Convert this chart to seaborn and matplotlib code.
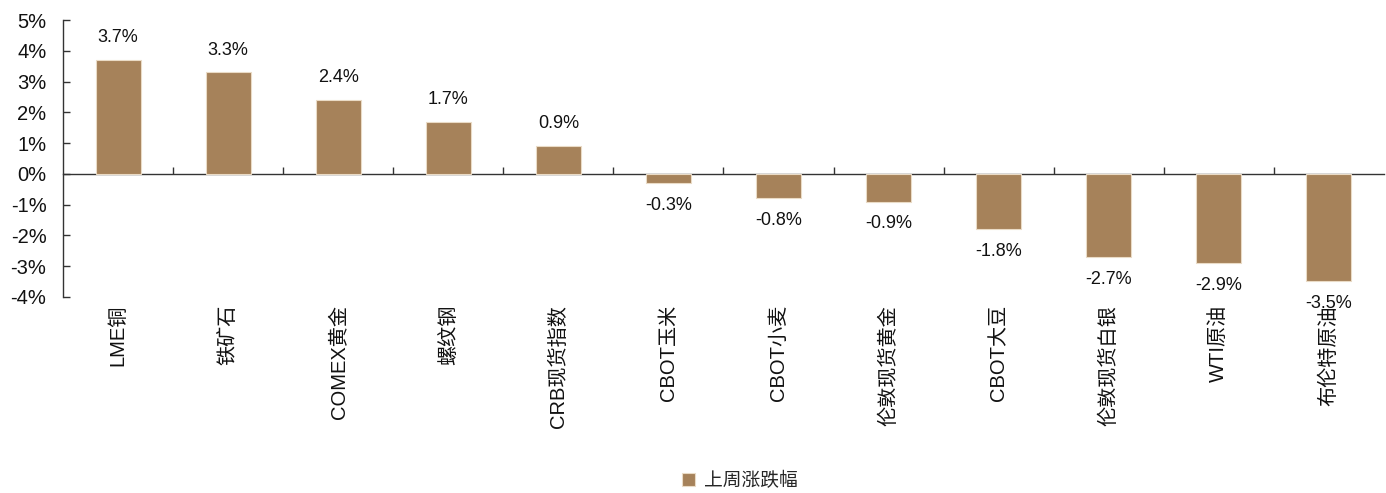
import matplotlib
matplotlib.use("Agg")
import matplotlib.pyplot as plt
import matplotlib.ticker as mticker
import seaborn as sns
import numpy as np
import pandas as pd

# Weekly change of major commodities (%)
categories = ["LME铜", "铁矿石", "COMEX黄金", "螺纹钢", "CRB现货指数", "CBOT玉米",
              "CBOT小麦", "伦敦现货黄金", "CBOT大豆", "伦敦现货白银", "WTI原油", "布伦特原油"]
values = [3.7, 3.3, 2.4, 1.7, 0.9, -0.3, -0.8, -0.9, -1.8, -2.7, -2.9, -3.5]
series_name = "上周涨跌幅"
y_ticks = [-4, -3, -2, -1, 0, 1, 2, 3, 4, 5]

sns.set_theme(style="white")
plt.rcParams["font.family"] = ["Liberation Sans", "Noto Sans CJK SC"]
plt.rcParams["axes.unicode_minus"] = False

bar_color = "#A6825A"
df = pd.DataFrame({"品种": categories, series_name: values})

fig = plt.figure(figsize=(13.86, 4.93), dpi=100)
ax = fig.add_axes([0.0455, 0.398, 0.953, 0.561])

sns.barplot(data=df, x="品种", y=series_name, color=bar_color, width=0.41,
            saturation=1, edgecolor="#EADBC6", linewidth=0.8, label=series_name, ax=ax)

ax.set_ylim(-4, 5)
ax.set_xlim(-0.5, len(categories) - 0.5)
ax.set_yticks(y_ticks)
ax.yaxis.set_major_formatter(mticker.FuncFormatter(lambda v, p: f"{v:.0f}%"))
ax.set_xlabel("")
ax.set_ylabel("")

# spines: only the left axis; zero line drawn by a secondary axis
for side in ["top", "right", "bottom"]:
    ax.spines[side].set_visible(False)
ax.spines["left"].set_color("#333333")
ax.spines["left"].set_linewidth(1.0)

ax.tick_params(axis="y", direction="in", length=5, width=1, color="#333333",
               labelsize=14.5, pad=12, left=True, labelcolor="#111111")
ax.tick_params(axis="x", length=0, pad=6, labelsize=14.5, labelcolor="#111111")
ax.set_xticks(range(len(categories)))
ax.set_xticklabels(categories, rotation=90, va="top", ha="center")

zero = ax.secondary_xaxis(4 / 9)
zero.set_xticks(np.arange(0.5, len(categories) - 0.5, 1))
zero.tick_params(axis="x", direction="in", length=5, width=1, color="#333333",
                 labelbottom=False, labeltop=False)
zero.spines["bottom"].set_color("#333333")
zero.spines["bottom"].set_linewidth(1.0)

# value labels
for bar, v in zip(ax.containers[0], values):
    ax.annotate(f"{v:.1f}%", xy=(bar.get_x() + bar.get_width() / 2, v),
                xytext=(0, 16 if v >= 0 else -16), textcoords="offset points",
                ha="center", va="center", fontsize=13, color="#111111")

ax.legend(handles=[ax.containers[0][0]], labels=[series_name], loc="center",
          bbox_to_anchor=(0.534, 0.025), bbox_transform=fig.transFigure,
          frameon=False, fontsize=13.5, handlelength=0.7, handleheight=0.7,
          handletextpad=0.5)

fig.savefig("out.png", dpi=100)
